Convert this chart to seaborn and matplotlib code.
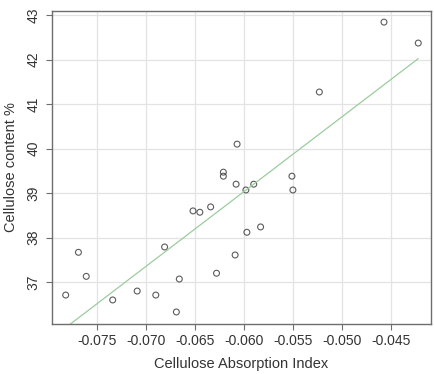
import matplotlib
matplotlib.use("Agg")
import matplotlib.pyplot as plt
import seaborn as sns
import numpy as np
import pandas as pd

absorption_index = [-0.0457, -0.0422, -0.0523, -0.0607, -0.0621, -0.0621, -0.0608,
                    -0.0590, -0.0598, -0.0551, -0.0550, -0.0652, -0.0645, -0.0634,
                    -0.0597, -0.0583, -0.0609, -0.0769, -0.0761, -0.0782, -0.0734,
                    -0.0709, -0.0681, -0.0690, -0.0666, -0.0669, -0.0628]
cellulose_content = [42.84, 42.37, 41.27, 40.10, 39.47, 39.38, 39.20,
                     39.20, 39.07, 39.38, 39.07, 38.60, 38.57, 38.69,
                     38.12, 38.24, 37.61, 37.67, 37.13, 36.71, 36.60,
                     36.80, 37.79, 36.71, 37.07, 36.33, 37.20]
x_ticks = [-0.075, -0.070, -0.065, -0.060, -0.055, -0.050, -0.045]
y_ticks = [37, 38, 39, 40, 41, 42, 43]

df = pd.DataFrame({"x": absorption_index, "y": cellulose_content})

sns.set_style("white")
plt.rcParams['font.family'] = ['Liberation Sans', 'DejaVu Sans']

fig = plt.figure(figsize=(4.35, 3.74), dpi=100)
ax = fig.add_axes([0.1195, 0.1337, 0.8713, 0.8369])

ax.set_xlim(-0.0796, -0.0409)
ax.set_ylim(36.06, 43.09)
ax.set_xticks(x_ticks)
ax.set_yticks(y_ticks)
ax.set_xticklabels([f"{v:.3f}" for v in x_ticks])
ax.set_yticklabels([str(v) for v in y_ticks], rotation=90, va="center")
ax.grid(True, color="#e3e3e3", linewidth=0.9)
ax.set_axisbelow(True)

sns.regplot(data=df, x="x", y="y", ax=ax, ci=None, truncate=True,
            scatter_kws=dict(s=18, facecolor="none", edgecolor="#333333", linewidths=0.8),
            line_kws=dict(color="#9ccc9c", linewidth=0.9))

for s in ax.spines.values():
    s.set_color("#6e6e6e")
    s.set_linewidth(1.0)
ax.tick_params(axis="both", direction="out", length=4.5, width=0.8, color="#6e6e6e",
               labelsize=10, labelcolor="#333333", bottom=True, left=True)
ax.tick_params(axis="x", pad=3)
ax.tick_params(axis="y", pad=4)

ax.set_xlabel("Cellulose Absorption Index", fontsize=10.5, color="#333333", labelpad=6)
ax.set_ylabel("Cellulose content %", fontsize=10.5, color="#333333", labelpad=6)

fig.savefig("out.png", dpi=100)
